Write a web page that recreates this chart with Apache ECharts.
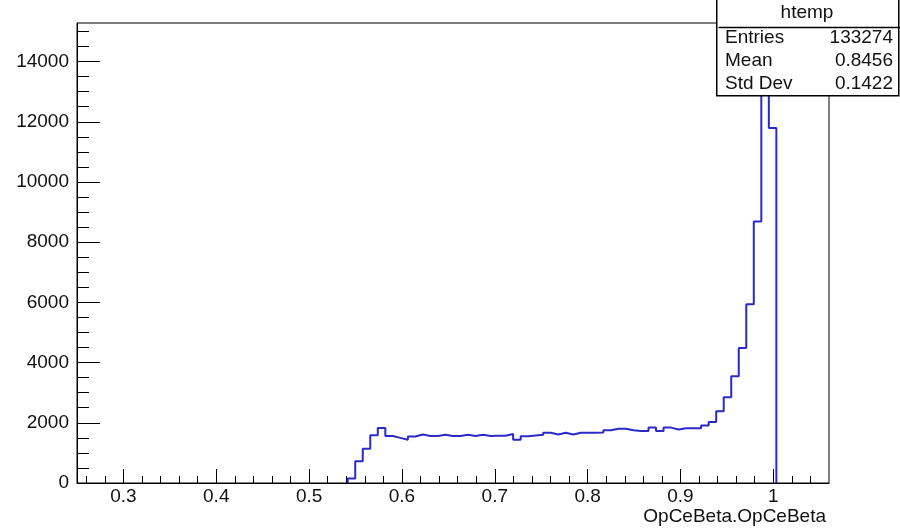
<!DOCTYPE html>
<html>
<head>
<meta charset="utf-8">
<script src="https://cdn.jsdelivr.net/npm/echarts@6/dist/echarts.min.js"></script>
<style>html,body{margin:0;padding:0;background:#fff}#c{width:900px;height:528px}</style>
</head>
<body>
<div id="c"></div>
<script>
// Histogram: 100 bins from 0.25 to 1.06
const binLow = 0.25;
const binHigh = 1.06;
const binCount = 100;
// bin contents (index 0..99)
const binValues = [
  0,0,0,0,0,0,0,0,0,0,
  0,0,0,0,0,0,0,0,0,0,
  0,0,0,0,0,0,0,0,0,0,
  0,0,0,0,0,0,150,720,1140,1590,
  1830,1560,1500,1440,1545,1610,1565,1565,1600,1565,
  1565,1600,1565,1600,1565,1570,1570,1630,1440,1550,
  1580,1600,1670,1610,1670,1610,1670,1670,1670,1680,
  1750,1800,1800,1750,1730,1730,1840,1730,1840,1780,
  1820,1820,1820,1910,2030,2380,2850,3545,4485,5940,
  8690,14550,11790,0,0,0,0,0,0,0
];
const yMax = 15282;
const xTickValues = [0.3,0.4,0.5,0.6,0.7,0.8,0.9,1.0];
const xTickLabels = ['0.3','0.4','0.5','0.6','0.7','0.8','0.9','1'];
const yTickValues = [0,2000,4000,6000,8000,10000,12000,14000];
const yTickLabels = ['0','2000','4000','6000','8000','10000','12000','14000'];
const xTitle = 'OpCeBeta.OpCeBeta';
const statsTitle = 'htemp';
const statsNames = ['Entries','Mean','Std Dev'];
const statsValues = ['133274','0.8456','0.1422'];

const binWidth = (binHigh - binLow) / binCount;
let first = binValues.findIndex(v => v > 0);
let last = binValues.length - 1 - [...binValues].reverse().findIndex(v => v > 0);
const pts = [[binLow + first * binWidth, 0]];
for (let i = first; i <= last; i++) pts.push([binLow + i * binWidth, binValues[i]]);
pts.push([binLow + (last + 1) * binWidth, 0]);

const xMinor = [];
for (let k = 13; k <= 52; k++) { const v = Math.round(k * 2) / 100; if (k % 5 !== 0) xMinor.push(v); }
const yMinor = [];
for (let v = 500; v <= 15000; v += 500) if (v % 2000 !== 0) yMinor.push(v);

const FONT = 'Liberation Sans, Arial, Helvetica, sans-serif';
const FS = 19;
const ZB = 100;
const chart = echarts.init(document.getElementById('c'), null, {renderer: 'canvas'});
chart.setOption({
  animation: false,
  grid: {left: 77, right: 71, top: 23, bottom: 45, show: true, borderColor: '#000', borderWidth: 1, outerBoundsMode: 'none'},
  xAxis: [{
    type: 'value', min: binLow, max: binHigh, position: 'bottom', z: 5,
    axisLine: {show: true, lineStyle: {color: '#000', width: 1}},
    axisTick: {show: true, inside: true, length: 14, customValues: xTickValues, lineStyle: {color: '#000'}},
    axisLabel: {show: true, customValues: xTickValues, margin: 4, color: '#111', fontSize: FS, fontFamily: FONT,
      formatter: v => { const i = xTickValues.findIndex(t => Math.abs(t - v) < 1e-9); return i >= 0 ? xTickLabels[i] : ''; }},
    splitLine: {show: false}
  }, {
    type: 'value', min: binLow, max: binHigh, position: 'bottom', z: 5,
    axisLine: {show: false},
    axisTick: {show: true, inside: true, length: 7, customValues: xMinor, lineStyle: {color: '#000'}},
    axisLabel: {show: false},
    splitLine: {show: false}
  }],
  yAxis: [{
    type: 'value', min: 0, max: yMax, position: 'left', z: 5,
    axisLine: {show: true, lineStyle: {color: '#000', width: 1}},
    axisTick: {show: true, inside: true, length: 23, customValues: yTickValues, lineStyle: {color: '#000'}},
    axisLabel: {show: true, customValues: yTickValues, margin: 8, color: '#111', fontSize: FS, fontFamily: FONT,
      formatter: v => { const i = yTickValues.findIndex(t => Math.abs(t - v) < 1e-6); return i >= 0 ? yTickLabels[i] : ''; }},
    splitLine: {show: false}
  }, {
    type: 'value', min: 0, max: yMax, position: 'left', z: 5,
    axisLine: {show: false},
    axisTick: {show: true, inside: true, length: 12, customValues: yMinor, lineStyle: {color: '#000'}},
    axisLabel: {show: false},
    splitLine: {show: false}
  }],
  series: [{
    type: 'line', xAxisIndex: 0, yAxisIndex: 0, step: 'end', showSymbol: false,
    data: pts, lineStyle: {color: '#2a2ac8', width: 2}, z: 2
  }],
  graphic: [
    {type: 'text', right: 900 - 826, top: 507, z: ZB,
      style: {text: xTitle, fontSize: FS, fontFamily: FONT, fill: '#111'}},
    {type: 'rect', left: 716, top: -2, z: ZB, shape: {x: 0, y: 0, width: 182, height: 97}, style: {fill: '#fff', stroke: '#000', lineWidth: 1.5}},
    {type: 'line', left: 716, top: 25, z: ZB + 1, shape: {x1: 0, y1: 0, x2: 182, y2: 0}, style: {stroke: '#000', lineWidth: 1.5}},
    {type: 'text', x: 807, y: 13, z: ZB + 1, style: {text: statsTitle, fontSize: FS, fontFamily: FONT, fill: '#111', align: 'center', verticalAlign: 'middle'}},
    ...statsNames.map((n, i) => ({type: 'text', x: 725, y: 38 + i * 23, z: ZB + 1, style: {text: n, fontSize: FS, fontFamily: FONT, fill: '#111', align: 'left', verticalAlign: 'middle'}})),
    ...statsValues.map((n, i) => ({type: 'text', x: 893, y: 38 + i * 23, z: ZB + 1, style: {text: n, fontSize: FS, fontFamily: FONT, fill: '#111', align: 'right', verticalAlign: 'middle'}}))
  ]
});
</script>
</body>
</html>
